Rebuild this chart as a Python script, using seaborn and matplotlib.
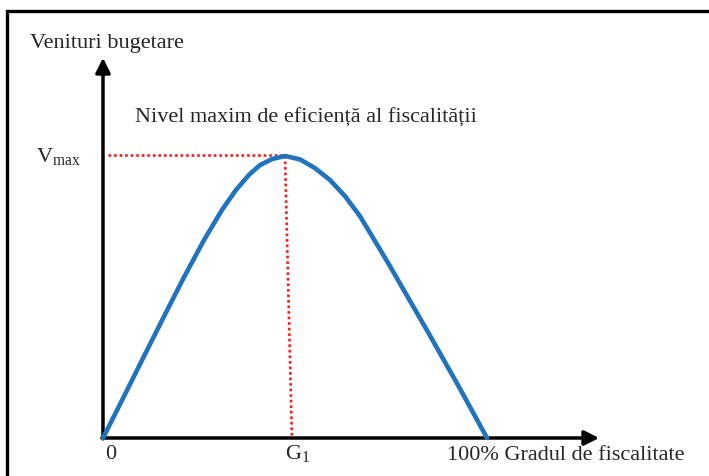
import matplotlib
matplotlib.use("Agg")
import matplotlib.pyplot as plt
import seaborn as sns
import pandas as pd
from matplotlib.patches import Rectangle

# Laffer curve: tax rate (%) vs budget revenue (Vmax = 100)
rate = [0, 5.0, 10.2, 15.4, 20.7, 26.3, 31.0, 34.6, 38.0, 40.9, 44.0, 47.4,
        51.3, 55.2, 59.1, 63.0, 66.9, 70.8, 74.7, 78.6, 85.2, 93.0, 100]
revenue = [0, 13.5, 27.7, 41.8, 56.0, 70.2, 80.9, 87.9, 93.3, 96.8, 98.9, 100,
           98.8, 95.7, 91.5, 85.8, 78.7, 69.9, 61.0, 51.8, 36.2, 17.4, 0]
g1_top, g1_bottom = 47.4, 49.2   # the dotted drop line leans a little
v_max = 100

df = pd.DataFrame({"rate": rate, "revenue": revenue})

sns.set_style("white")
plt.rcParams["font.family"] = ["Liberation Serif", "DejaVu Serif"]
plt.rcParams["mathtext.fontset"] = "custom"
plt.rcParams["mathtext.rm"] = "Liberation Serif"
plt.rcParams["mathtext.it"] = "Liberation Serif"

W, H = 709, 476
fig = plt.figure(figsize=(W / 100, H / 100), dpi=100)
ax = fig.add_axes([0, 0, 1, 1])
# x: 0 -> px 103, 100 -> px 487 ; y: 0 -> px 438, 100 -> px 156
sx, sy = 3.84, 2.82
ax.set_xlim(-103 / sx, (W - 103) / sx)
ax.set_ylim(-(H - 438) / sy, 438 / sy)
ax.axis("off")

def fx(px, py):
    return px / W, 1 - py / H

# outer frame (only top and left edges are inside the image)
fig.patches.append(Rectangle(fx(6.5, 560), 900 / W, 549 / H, transform=fig.transFigure,
                             fill=False, edgecolor="black", lw=2.4))

# axes with arrows
ax.annotate("", xy=(0, 134.8), xytext=(0, -0.3),
            arrowprops=dict(arrowstyle="-|>", color="black", lw=2.5, mutation_scale=22,
                            shrinkA=0, shrinkB=0))
ax.annotate("", xy=(129.2, 0), xytext=(-0.3, 0),
            arrowprops=dict(arrowstyle="-|>", color="black", lw=2.5, mutation_scale=22,
                            shrinkA=0, shrinkB=0))

# dotted guide lines
ax.plot([1.2, g1_top], [v_max + 0.4, v_max + 0.4], color="#ff1a1a", lw=1.9,
        dashes=(1, 1.1), zorder=3)
ax.plot([g1_top, g1_bottom], [v_max, 0], color="#ff1a1a", lw=1.9,
        dashes=(1, 1.1), zorder=3)

sns.lineplot(data=df, x="rate", y="revenue", sort=False, ax=ax,
             color="#1f73bf", lw=3.3, zorder=4,
             solid_joinstyle="round", solid_capstyle="round")
ax.axis("off")

fs = 16
fig.text(*fx(30, 48), "Venituri bugetare", fontsize=fs, va="baseline")
fig.text(*fx(135, 123), "Nivel maxim de eficiență al fiscalității", fontsize=fs, va="baseline")
fig.text(*fx(36, 162), r"V$_{\mathrm{max}}$", fontsize=fs, va="baseline")
fig.text(*fx(105, 459), "0", fontsize=fs, va="baseline")
fig.text(*fx(285, 459), r"G$_{\mathrm{1}}$", fontsize=fs, va="baseline")
fig.text(*fx(447, 460), "100% Gradul de fiscalitate", fontsize=fs, va="baseline")

fig.savefig("out.png", dpi=100)
